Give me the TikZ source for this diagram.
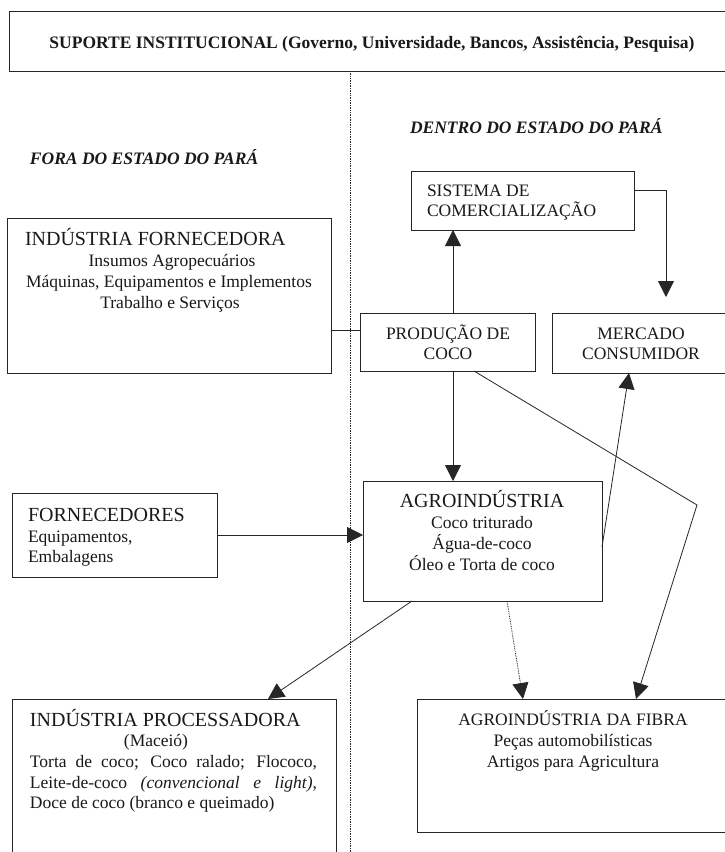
\documentclass[tikz,border=0pt]{standalone}
\usepackage{fontspec}
\setmainfont{Liberation Serif}
\usetikzlibrary{arrows.meta}
\newcommand{\bodyf}{\fontsize{17.5}{21}\selectfont}
\newcommand{\headf}{\fontsize{20}{24}\selectfont}
\begin{document}
\begin{tikzpicture}[x=1pt,y=-1pt,
  box/.style={draw=black!85, line width=0.8pt, inner sep=0pt, outer sep=0pt, anchor=north west},
  txt/.style={inner sep=0pt, outer sep=0pt, font=\bodyf, text=black!90},
  conn/.style={draw=black!85, line width=0.8pt},
  arr/.style={conn, -{Triangle[length=16pt,width=16pt]}},
  darr/.style={arr, dash pattern=on 0.8pt off 0.9pt}]
\useasboundingbox (0,0) rectangle (724,852);
\fill[white] (0,0) rectangle (724,852);

% boxes
\node[box, minimum width=731pt, minimum height=60pt] (sup) at (9,11) {};
\node[box, minimum width=223pt, minimum height=59pt] (sis) at (411,171) {};
\node[box, minimum width=324pt, minimum height=155pt] (forn) at (7,218) {};
\node[box, minimum width=175pt, minimum height=58pt] (prod) at (360,313) {};
\node[box, minimum width=188pt, minimum height=60pt] (merc) at (552,313) {};
\node[box, minimum width=205pt, minimum height=84pt] (fnc) at (12,493) {};
\node[box, minimum width=239pt, minimum height=120pt] (agro) at (363,481) {};
\node[box, minimum width=324pt, minimum height=171pt] (proc) at (12,699) {};
\node[box, minimum width=323pt, minimum height=133pt] (fibra) at (417,699) {};

% dotted divider
\coordinate (dbot) at (350,852);
\draw[line width=0.8pt, black!85, dash pattern=on 0.8pt off 0.9pt] (sup.south -| dbot) -- (dbot);

% texts
\node[txt, anchor=base, font=\bodyf\bfseries] (tsup) at (372,48) {SUPORTE INSTITUCIONAL (Governo, Universidade, Bancos, Assistência, Pesquisa)};
\node[txt, anchor=base west, font=\bodyf\bfseries\itshape] (tdentro) at (410,133) {DENTRO DO ESTADO DO PARÁ};
\node[txt, anchor=base west, font=\bodyf\bfseries\itshape] (tfora) at (30,164) {FORA DO ESTADO DO PARÁ};

\node[txt, anchor=base west] (tsis1) at (427,196) {SISTEMA DE};
\node[txt, anchor=base west] (tsis2) at (427,216) {COMERCIALIZAÇÃO};

\node[txt, anchor=base] (tprod1) at (448,339) {PRODUÇÃO DE};
\node[txt, anchor=base] (tprod2) at (448,359) {COCO};

\node[txt, anchor=base] (tmerc1) at (641,339) {MERCADO};
\node[txt, anchor=base] (tmerc2) at (641,359) {CONSUMIDOR};

\node[txt, anchor=base west, font=\headf] (tforn0) at (25,245) {INDÚSTRIA FORNECEDORA};
\node[txt, anchor=base] (tforn1) at (172,266) {Insumos Agropecuários};
\node[txt, anchor=base] (tforn2) at (169,287) {Máquinas, Equipamentos e Implementos};
\node[txt, anchor=base] (tforn3) at (170,308) {Trabalho e Serviços};

\node[txt, anchor=base west, font=\headf] (tfnc0) at (28,521) {FORNECEDORES};
\node[txt, anchor=base west] (tfnc1) at (28,542) {Equipamentos,};
\node[txt, anchor=base west] (tfnc2) at (28,562) {Embalagens};

\node[txt, anchor=base, font=\headf] (tagro0) at (482,507) {AGROINDÚSTRIA};
\node[txt, anchor=base] (tagro1) at (482,528) {Coco triturado};
\node[txt, anchor=base] (tagro2) at (482,549) {Água-de-coco};
\node[txt, anchor=base] (tagro3) at (482,570) {Óleo e Torta de coco};

\node[txt, anchor=base west, font=\headf] (tproc0) at (30,726) {INDÚSTRIA PROCESSADORA};
\node[txt, anchor=base] (tproc1) at (156,746) {(Maceió)};
\node[txt, anchor=base west] (tproc2) at (30,767) {\makebox[287pt][s]{Torta de coco; Coco ralado; Flococo,}};
\node[txt, anchor=base west] (tproc3) at (30,788) {\makebox[287pt][s]{Leite-de-coco \textit{(convencional e light)},}};
\node[txt, anchor=base west] (tproc4) at (30,808) {Doce de coco (branco e queimado)};

\node[txt, anchor=base] (tfib0) at (573,725) {AGROINDÚSTRIA DA FIBRA};
\node[txt, anchor=base] (tfib1) at (573,746) {Peças automobilísticas};
\node[txt, anchor=base] (tfib2) at (573,767) {Artigos para Agricultura};

% connectors
\draw[arr] ([xshift=5.5pt]prod.north) -- ([xshift=5.5pt]prod.north |- sis.south);
\coordinate (mtip) at (666,297);
\draw[arr] ([yshift=10.5pt]sis.east) -| (mtip);
\draw[conn] ([yshift=-34.5pt]forn.east) -- ([yshift=-34.5pt]forn.east -| prod.west);
\draw[arr] ([xshift=5.5pt]prod.south) -- ([xshift=5.5pt]prod.south |- agro.north);
\draw[arr] (fnc.east) -- (fnc.east -| agro.west);
\coordinate (bend) at (697,505);
\draw[arr] ([xshift=26.5pt]prod.south) -- (bend) -- ([xshift=219pt]fibra.north west);
\draw[arr] ([yshift=-6pt]agro.east) -- ([xshift=77pt]merc.south west);
\draw[arr] ([xshift=49pt]agro.south west) -- ([xshift=256pt]proc.north west);
\draw[darr] ([xshift=144pt]agro.south west) -- ([xshift=106pt]fibra.north west);
\end{tikzpicture}
\end{document}
